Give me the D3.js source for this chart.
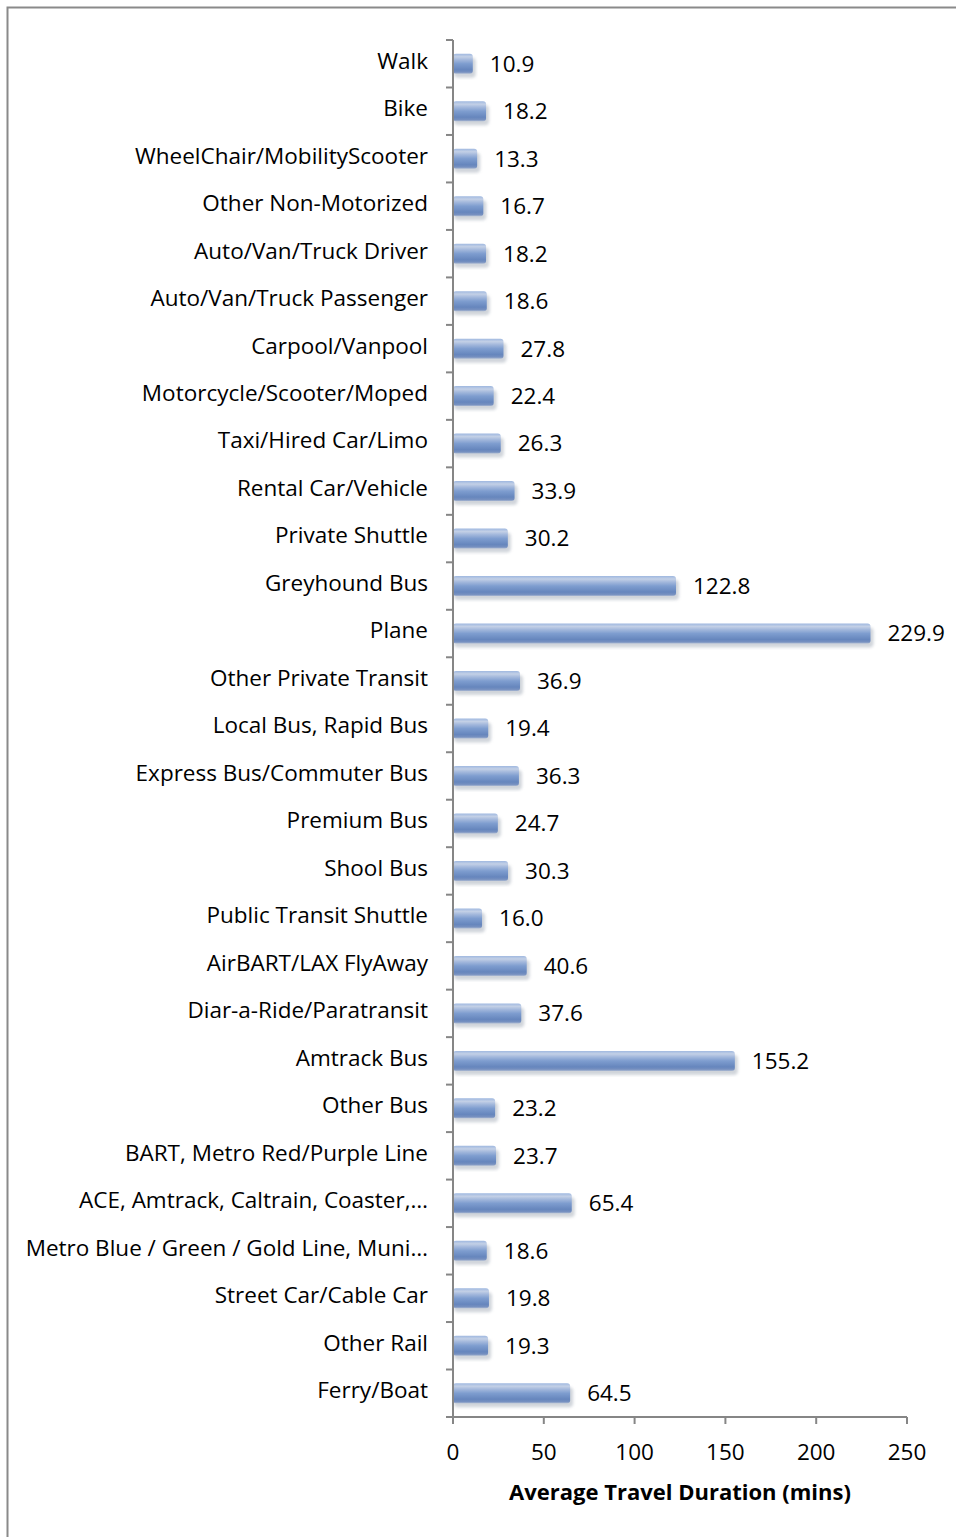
<!DOCTYPE html>
<html>
<head>
<meta charset="utf-8">
<script src="https://cdn.jsdelivr.net/npm/d3@7"></script>
<style>
  body { margin: 0; background: #fff; }
  text { font-family: "Open Sans", sans-serif; fill: #000; }
</style>
</head>
<body>
<script>
var categories = [
  'Walk', 'Bike', 'WheelChair/MobilityScooter', 'Other Non-Motorized',
  'Auto/Van/Truck Driver', 'Auto/Van/Truck Passenger', 'Carpool/Vanpool',
  'Motorcycle/Scooter/Moped', 'Taxi/Hired Car/Limo', 'Rental Car/Vehicle',
  'Private Shuttle', 'Greyhound Bus', 'Plane', 'Other Private Transit',
  'Local Bus, Rapid Bus', 'Express Bus/Commuter Bus', 'Premium Bus', 'Shool Bus',
  'Public Transit Shuttle', 'AirBART/LAX FlyAway', 'Diar-a-Ride/Paratransit',
  'Amtrack Bus', 'Other Bus', 'BART, Metro Red/Purple Line',
  'ACE, Amtrack, Caltrain, Coaster,\u2026', 'Metro Blue / Green / Gold Line, Muni\u2026',
  'Street Car/Cable Car', 'Other Rail', 'Ferry/Boat'
];
var values = [10.9, 18.2, 13.3, 16.7, 18.2, 18.6, 27.8, 22.4, 26.3, 33.9, 30.2,
  122.8, 229.9, 36.9, 19.4, 36.3, 24.7, 30.3, 16.0, 40.6, 37.6, 155.2, 23.2,
  23.7, 65.4, 18.6, 19.8, 19.3, 64.5];
var xTicks = [0, 50, 100, 150, 200, 250];
var axisTitle = 'Average Travel Duration (mins)';

var data = categories.map(function(c, i) { return { cat: c, value: values[i] }; });

var w = 956, h = 1537;
var plotLeft = 453, plotRight = 907, plotTop = 40, plotBottom = 1417;
var fs = 22.5;

var svg = d3.select('body').append('svg').attr('width', w).attr('height', h);

var defs = svg.append('defs');
var grad = defs.append('linearGradient').attr('id', 'barGrad')
  .attr('x1', 0).attr('y1', 0).attr('x2', 0).attr('y2', 1);
[[0, '#9fb8e0'], [0.15, '#c3d0e6'], [0.3, '#a3b8dc'], [0.5, '#7e9dcf'],
 [0.8, '#6686bd'], [0.92, '#7690c0'], [1, '#a9b8d2']].forEach(function(s) {
  grad.append('stop').attr('offset', s[0]).attr('stop-color', s[1]);
});
defs.append('filter').attr('id', 'blur').append('feGaussianBlur').attr('stdDeviation', 1.6);

// chart frame
svg.append('rect').attr('x', 7.5).attr('y', 7.5).attr('width', 1000).attr('height', 1600)
  .attr('fill', 'none').attr('stroke', '#8a8a8a').attr('stroke-width', 2);

var x = d3.scaleLinear().domain([0, 250]).range([plotLeft, plotRight]);
var y = d3.scaleBand().domain(categories).range([plotTop, plotBottom]);
var barH = 20;

var bars = svg.append('g');
// soft shadow
bars.selectAll('.shadow').data(data).enter().append('rect')
  .attr('x', x(0) + 1)
  .attr('y', function(d) { return y(d.cat) + y.bandwidth() / 2 - barH / 2 + 4; })
  .attr('width', function(d) { return x(d.value) - x(0) + 2; })
  .attr('height', barH)
  .attr('rx', 4)
  .attr('fill', '#aab2bd').attr('opacity', 0.55)
  .attr('filter', 'url(#blur)');
bars.selectAll('.bar').data(data).enter().append('rect')
  .attr('class', 'bar')
  .attr('x', x(0))
  .attr('y', function(d) { return y(d.cat) + y.bandwidth() / 2 - barH / 2; })
  .attr('width', function(d) { return x(d.value) - x(0); })
  .attr('height', barH)
  .attr('rx', 3)
  .attr('fill', 'url(#barGrad)');

// value labels
svg.append('g').selectAll('text').data(data).enter().append('text')
  .attr('x', function(d) { return x(d.value) + 17; })
  .attr('y', function(d) { return y(d.cat) + y.bandwidth() / 2; })
  .attr('dy', '0.35em')
  .attr('font-size', fs)
  .text(function(d) { return d.value.toFixed(1); });

// y axis
var yAxis = svg.append('g').attr('transform', 'translate(' + plotLeft + ',0)');
yAxis.append('line').attr('x1', 0).attr('x2', 0).attr('y1', plotTop).attr('y2', plotBottom)
  .attr('stroke', '#868686').attr('stroke-width', 2);
yAxis.selectAll('.tick').data(categories.concat([null])).enter().append('line')
  .attr('x1', -7).attr('x2', 0)
  .attr('y1', function(d, i) { return i < categories.length ? y(d) : plotBottom; })
  .attr('y2', function(d, i) { return i < categories.length ? y(d) : plotBottom; })
  .attr('stroke', '#868686').attr('stroke-width', 2);
yAxis.selectAll('text').data(categories).enter().append('text')
  .attr('x', -25)
  .attr('y', function(d) { return y(d) + y.bandwidth() / 2 - 3; })
  .attr('dy', '0.35em')
  .attr('text-anchor', 'end')
  .attr('font-size', fs)
  .text(function(d) { return d; });

// x axis
var xAxis = svg.append('g').attr('transform', 'translate(0,' + plotBottom + ')');
xAxis.append('line').attr('x1', plotLeft - 7).attr('x2', plotRight).attr('y1', 0).attr('y2', 0)
  .attr('stroke', '#868686').attr('stroke-width', 2);
xAxis.selectAll('.tick').data(xTicks).enter().append('line')
  .attr('x1', function(d) { return x(d); }).attr('x2', function(d) { return x(d); })
  .attr('y1', 0).attr('y2', 7)
  .attr('stroke', '#868686').attr('stroke-width', 2);
xAxis.selectAll('text').data(xTicks).enter().append('text')
  .attr('x', function(d) { return x(d); })
  .attr('y', 35)
  .attr('dy', '0.35em')
  .attr('text-anchor', 'middle')
  .attr('font-size', fs)
  .text(function(d) { return d; });

svg.append('text')
  .attr('x', (plotLeft + plotRight) / 2).attr('y', 1492)
  .attr('dy', '0.35em')
  .attr('text-anchor', 'middle')
  .attr('font-size', 22)
  .attr('font-weight', 'bold')
  .text(axisTitle);
</script>
</body>
</html>
